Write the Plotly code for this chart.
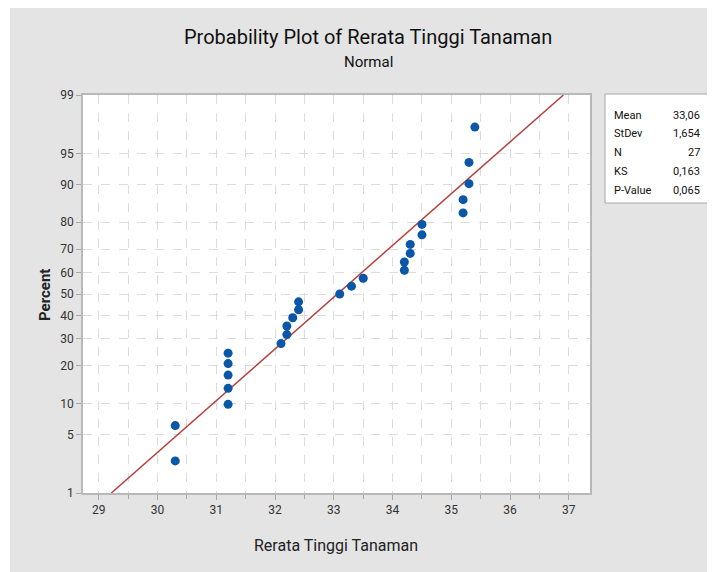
import math
import plotly.graph_objects as go

# ---- data ----
values = [30.3, 30.3, 31.2, 31.2, 31.2, 31.2, 31.2, 32.1, 32.2, 32.2, 32.3, 32.4, 32.4,
          33.1, 33.3, 33.5, 34.2, 34.2, 34.3, 34.3, 34.5, 34.5, 35.2, 35.2, 35.3, 35.3, 35.4]
percents = [2.55, 6.20, 9.85, 13.50, 17.15, 20.80, 24.45, 28.10, 31.75, 35.40, 39.05, 42.70, 46.35,
            50.00, 53.65, 57.30, 60.95, 64.60, 68.25, 71.90, 75.55, 79.20, 82.85, 86.50, 90.15, 93.80, 97.45]
y_ticks = [1, 5, 10, 20, 30, 40, 50, 60, 70, 80, 90, 95, 99]
x_ticks = [29, 30, 31, 32, 33, 34, 35, 36, 37]
MEAN = 33.06
STDEV = 1.654
stats_labels = ["Mean", "StDev", "N", "KS", "P-Value"]
stats_values = ["33,06", "1,654", "27", "0,163", "0,065"]
fit_percents = [1, 99]


def probit(p):
    """Inverse standard normal CDF (p in percent) via bisection on erf."""
    q = p / 100.0
    lo, hi = -8.0, 8.0
    for _ in range(80):
        mid = (lo + hi) / 2
        if 0.5 * (1 + math.erf(mid / math.sqrt(2))) < q:
            lo = mid
        else:
            hi = mid
    return (lo + hi) / 2


FONT = "Roboto, Noto Sans, sans-serif"

fig = go.Figure()

fit_z = [probit(p) for p in fit_percents]
fig.add_trace(go.Scatter(
    x=[MEAN + z * STDEV for z in fit_z], y=fit_z, mode="lines",
    line=dict(color="#b5413f", width=1.5), hoverinfo="skip", showlegend=False))

fig.add_trace(go.Scatter(
    x=values, y=[probit(p) for p in percents], mode="markers",
    marker=dict(color="#0a56a8", size=9), showlegend=False))

OFF = 8  # page body margin
L, R, T, B = 83 - OFF, 590 - OFF, 95 - OFF, 493 - OFF
W, H = 715 - OFF, 572 - OFF
pw, ph = R - L, B - T


def px(x):
    return (x - OFF - L) / pw


def py(y):
    return (B - (y - OFF)) / ph


# Outer gray panel
fig.add_shape(type="rect", xref="paper", yref="paper", layer="below",
              x0=px(10), x1=px(740), y0=py(600), y1=py(5),
              fillcolor="#e4e4e4", line=dict(width=0))
# plot area white
fig.add_shape(type="rect", xref="paper", yref="paper", layer="below",
              x0=0, x1=1, y0=0, y1=1, fillcolor="white", line=dict(width=0))
# stats box
fig.add_shape(type="rect", xref="paper", yref="paper",
              x0=px(605), x1=px(709), y0=py(203), y1=py(94),
              fillcolor="white", line=dict(color="#a8a8a8", width=1))

annotations = []
for i, (lab, val) in enumerate(zip(stats_labels, stats_values)):
    yy = py(115 + i * 18.8)
    annotations.append(dict(x=px(612), y=yy, xref="paper", yref="paper", text=lab,
                            showarrow=False, xanchor="left", yanchor="middle",
                            font=dict(family=FONT, size=11, color="#111")))
    annotations.append(dict(x=px(702), y=yy, xref="paper", yref="paper", text=val,
                            showarrow=False, xanchor="right", yanchor="middle",
                            font=dict(family=FONT, size=11, color="#111")))

annotations.append(dict(x=px(368), y=py(37), xref="paper", yref="paper",
                        text="Probability Plot of Rerata Tinggi Tanaman", showarrow=False,
                        xanchor="center", yanchor="middle",
                        font=dict(family=FONT, size=20, color="#111")))
annotations.append(dict(x=px(368), y=py(62), xref="paper", yref="paper",
                        text="Normal", showarrow=False, xanchor="center", yanchor="middle",
                        font=dict(family=FONT, size=15, color="#111")))
annotations.append(dict(x=px(336), y=py(545), xref="paper", yref="paper",
                        text="Rerata Tinggi Tanaman", showarrow=False, xanchor="center",
                        yanchor="middle", font=dict(family=FONT, size=16, color="#222")))
annotations.append(dict(x=px(45), y=py(295), xref="paper", yref="paper",
                        text="<b>Percent</b>", showarrow=False, textangle=-90,
                        xanchor="center", yanchor="middle",
                        font=dict(family=FONT, size=15, color="#222")))

fig.update_layout(
    width=W, height=H,
    margin=dict(l=L, r=W - R, t=T, b=H - B, pad=0),
    paper_bgcolor="white", plot_bgcolor="rgba(0,0,0,0)",
    annotations=annotations,
    font=dict(family=FONT, size=12, color="#333"),
)

fig.update_xaxes(
    range=[28.73, 37.36], tickvals=x_ticks, ticktext=[str(v) for v in x_ticks],
    ticks="outside", ticklen=5, tickcolor="#a8a8a8",
    showline=True, linecolor="#b8b8b8", linewidth=1.5, mirror=True,
    showgrid=True, gridcolor="#dcdcdc", griddash="dash", gridwidth=1,
    minor=dict(dtick=0.5, tick0=29, showgrid=True, gridcolor="#dcdcdc", griddash="dash",
               ticks="outside", ticklen=4, tickcolor="#a8a8a8"),
    zeroline=False, tickfont=dict(family=FONT, size=12, color="#333"),
)
fig.update_yaxes(
    range=[probit(1), probit(99)], tickvals=[probit(v) for v in y_ticks],
    ticktext=[str(v) for v in y_ticks],
    ticks="outside", ticklen=5, tickcolor="#a8a8a8",
    showline=True, linecolor="#b8b8b8", linewidth=1.5, mirror=True,
    showgrid=True, gridcolor="#dcdcdc", griddash="dash", gridwidth=1,
    zeroline=False, tickfont=dict(family=FONT, size=12, color="#333"),
)

fig.write_html("out.html")
